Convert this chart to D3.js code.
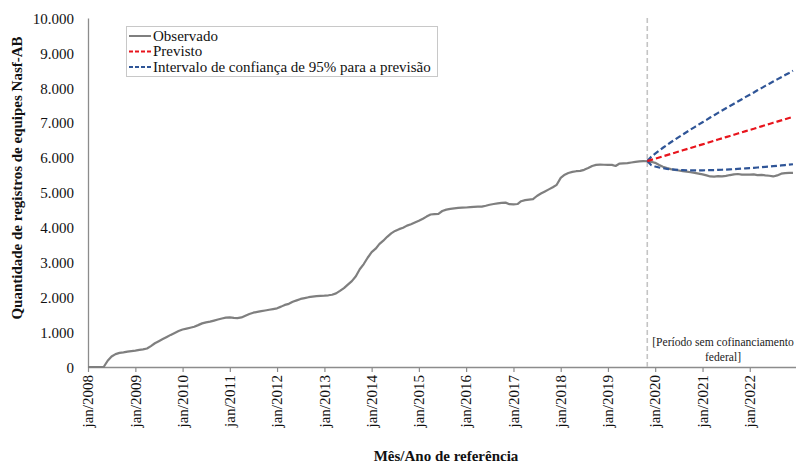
<!DOCTYPE html>
<html lang="pt-BR">
<head>
<meta charset="utf-8">
<title>Registros de equipes Nasf-AB</title>
<script src="https://cdn.jsdelivr.net/npm/d3@7"></script>
<style>
  html, body { margin: 0; padding: 0; background: #fff; }
  svg { display: block; font-family: "Liberation Serif", "Times New Roman", serif; }
</style>
</head>
<body>
<svg id="chart" width="796" height="464"></svg>
<script>
// Monthly registrations, Jan/2008 – Dec/2022
const firstMonth = "2008-01";
const observed = [
  0, 0, 0, 0, 0, 180, 300, 370, 405, 420, 440, 455,
  470, 490, 505, 530, 600, 680, 740, 800, 860, 920, 975, 1030,
  1075, 1100, 1125, 1155, 1200, 1250, 1280, 1300, 1330, 1360, 1390, 1413,
  1420, 1405, 1400, 1420, 1470, 1520, 1556, 1580, 1600, 1620, 1640, 1660,
  1682, 1730, 1780, 1810, 1870, 1910, 1950, 1975, 2000, 2015, 2030, 2040,
  2045, 2055, 2070, 2110, 2180, 2260, 2360, 2460, 2600, 2800, 2950, 3130,
  3290, 3390, 3520, 3620, 3730, 3830, 3900, 3950, 3990, 4050, 4090, 4140,
  4190, 4250, 4310, 4370, 4380, 4390, 4470, 4510, 4530, 4545, 4560, 4565,
  4570, 4580, 4590, 4595, 4595, 4620, 4650, 4670, 4690, 4700, 4710, 4665,
  4660, 4670, 4750, 4780, 4795, 4810, 4900, 4970, 5030, 5090, 5150, 5220,
  5420, 5510, 5560, 5590, 5610, 5620, 5650, 5700, 5760, 5790, 5800, 5795,
  5790, 5790, 5760, 5830, 5836, 5840, 5860, 5875, 5890, 5900, 5895, 5880,
  5850, 5790, 5740, 5700, 5670, 5645, 5630, 5615, 5600, 5580, 5560, 5540,
  5520, 5490, 5460, 5455, 5470, 5460, 5475, 5500, 5520, 5530, 5510, 5515,
  5510, 5520, 5500, 5505, 5490, 5480, 5460, 5490, 5540, 5555, 5560, 5565
];

// Forecast from Nov/2019 onward, with 95% interval
const forecastStart = "2019-11";
const predicted = [
  5900, 5934, 5969, 6003, 6037, 6072, 6106, 6140, 6174, 6209,
  6243, 6277, 6312, 6346, 6380, 6415, 6449, 6483, 6517, 6552,
  6586, 6620, 6655, 6689, 6723, 6758, 6792, 6826, 6860, 6895,
  6929, 6963, 6998, 7032, 7066, 7101, 7135, 7170
];
const upper95 = [
  5900, 6020, 6114, 6200, 6282, 6362, 6439, 6514, 6588, 6662,
  6733, 6804, 6875, 6944, 7012, 7081, 7149, 7215, 7282, 7349,
  7414, 7479, 7545, 7609, 7674, 7739, 7802, 7865, 7928, 7991,
  8054, 8116, 8179, 8242, 8303, 8365, 8426, 8489
];
const lower95 = [
  5900, 5789, 5746, 5716, 5695, 5679, 5666, 5656, 5648, 5643,
  5638, 5636, 5635, 5635, 5635, 5638, 5640, 5643, 5647, 5652,
  5657, 5662, 5669, 5676, 5683, 5691, 5699, 5707, 5716, 5725,
  5735, 5744, 5755, 5765, 5775, 5787, 5797, 5809
];

const yTicks = [0, 1000, 2000, 3000, 4000, 5000, 6000, 7000, 8000, 9000, 10000];
const xTickYears = [2008, 2009, 2010, 2011, 2012, 2013, 2014, 2015, 2016, 2017, 2018, 2019, 2020, 2021, 2022];
const legendLabels = ["Observado", "Previsto", "Intervalo de confiança de 95% para a previsão"];
const noteLines = ["[Período sem cofinanciamento", "federal]"];

const svg = d3.select("#chart");
const margin = { left: 88, top: 18, bottom: 367, right: 797 };

const parseMonth = d3.utcParse("%Y-%m");
const start = parseMonth(firstMonth);
const fStart = parseMonth(forecastStart);
const obsSeries = observed.map((v, i) => ({ date: d3.utcMonth.offset(start, i), value: v }));
const toSeries = arr => arr.map((v, i) => ({ date: d3.utcMonth.offset(fStart, i), value: v }));

const x = d3.scaleUtc()
  .domain([start, d3.utcYear.offset(start, 15)])
  .range([margin.left, margin.right]);
const y = d3.scaleLinear().domain([0, 10000]).range([margin.bottom, margin.top]);

const ptBR = d3.formatLocale({ decimal: ",", thousands: ".", grouping: [3], currency: ["R$", ""] });
const fmt = ptBR.format(",");

// Y axis: line only, labels to the left
const yAxis = d3.axisLeft(y).tickValues(yTicks).tickFormat(fmt).tickSize(0).tickPadding(14);
const gy = svg.append("g").attr("transform", `translate(${margin.left},0)`).call(yAxis);
gy.select(".domain").attr("stroke", "#8c8c8c").attr("stroke-width", 1.3);
gy.selectAll("text").attr("font-size", 15).attr("fill", "#111")
  .attr("font-family", "Liberation Serif, Times New Roman, serif").attr("dy", "0.35em");

// X axis: yearly ticks, rotated labels
const xAxis = d3.axisBottom(x)
  .tickValues(xTickYears.map(yr => new Date(Date.UTC(yr, 0, 1))))
  .tickFormat(d3.utcFormat("jan/%Y"))
  .tickSize(5).tickSizeOuter(0);
const gx = svg.append("g").attr("transform", `translate(0,${margin.bottom})`).call(xAxis);
gx.select(".domain").attr("stroke", "#8c8c8c").attr("stroke-width", 1.3);
gx.selectAll(".tick line").attr("stroke", "#8c8c8c").attr("stroke-width", 1.2);
gx.selectAll("text")
  .attr("font-size", 15).attr("fill", "#111")
  .attr("font-family", "Liberation Serif, Times New Roman, serif")
  .attr("transform", "rotate(-90)")
  .attr("text-anchor", "end")
  .attr("x", -8).attr("y", 0).attr("dy", "0.32em");

// Start of the period without federal co-financing
svg.append("line")
  .attr("x1", x(fStart)).attr("x2", x(fStart))
  .attr("y1", y(10000)).attr("y2", y(0))
  .attr("stroke", "#c4c4c4").attr("stroke-width", 1.6)
  .attr("stroke-dasharray", "5,3");

const line = d3.line().x(d => x(d.date)).y(d => y(d.value));

svg.append("path").datum(obsSeries)
  .attr("d", line).attr("fill", "none")
  .attr("stroke", "#7f7f7f").attr("stroke-width", 2.2)
  .attr("stroke-linejoin", "round");

[upper95, lower95].forEach(arr => {
  svg.append("path").datum(toSeries(arr))
    .attr("d", line).attr("fill", "none")
    .attr("stroke", "#2f5597").attr("stroke-width", 2.2)
    .attr("stroke-dasharray", "6,3");
});
svg.append("path").datum(toSeries(predicted))
  .attr("d", line).attr("fill", "none")
  .attr("stroke", "#e8141c").attr("stroke-width", 2.2)
  .attr("stroke-dasharray", "6,3");

// Legend
const lg = svg.append("g");
lg.append("rect").attr("x", 126.5).attr("y", 26.5).attr("width", 311).attr("height", 50)
  .attr("fill", "#fff").attr("stroke", "#c8c8c8").attr("stroke-width", 1);
const legendStyles = [
  { color: "#7f7f7f", dash: null },
  { color: "#e8141c", dash: "4,2" },
  { color: "#2f5597", dash: "4,2" }
];
legendLabels.forEach((t, i) => {
  const yy = 36 + i * 15.5;
  lg.append("line").attr("x1", 129).attr("x2", 151).attr("y1", yy).attr("y2", yy)
    .attr("stroke", legendStyles[i].color).attr("stroke-width", 2)
    .attr("stroke-dasharray", legendStyles[i].dash);
  lg.append("text").attr("x", 153).attr("y", yy).attr("dy", "0.33em")
    .attr("font-size", 15).attr("fill", "#111").text(t);
});

// Note on the forecast period
const note = svg.append("text").attr("font-size", 11.6).attr("fill", "#222").attr("text-anchor", "middle");
noteLines.forEach((t, i) => {
  note.append("tspan").attr("x", 723).attr("y", 346 + i * 14.5).text(t);
});

// Axis titles
svg.append("text")
  .attr("x", 446).attr("y", 461)
  .attr("text-anchor", "middle").attr("font-size", 15).attr("font-weight", "bold").attr("fill", "#111")
  .text("Mês/Ano de referência");
svg.append("text")
  .attr("transform", "translate(22,178) rotate(-90)")
  .attr("text-anchor", "middle").attr("font-size", 15).attr("font-weight", "bold").attr("fill", "#111")
  .text("Quantidade de registros de equipes Nasf-AB");
</script>
</body>
</html>
